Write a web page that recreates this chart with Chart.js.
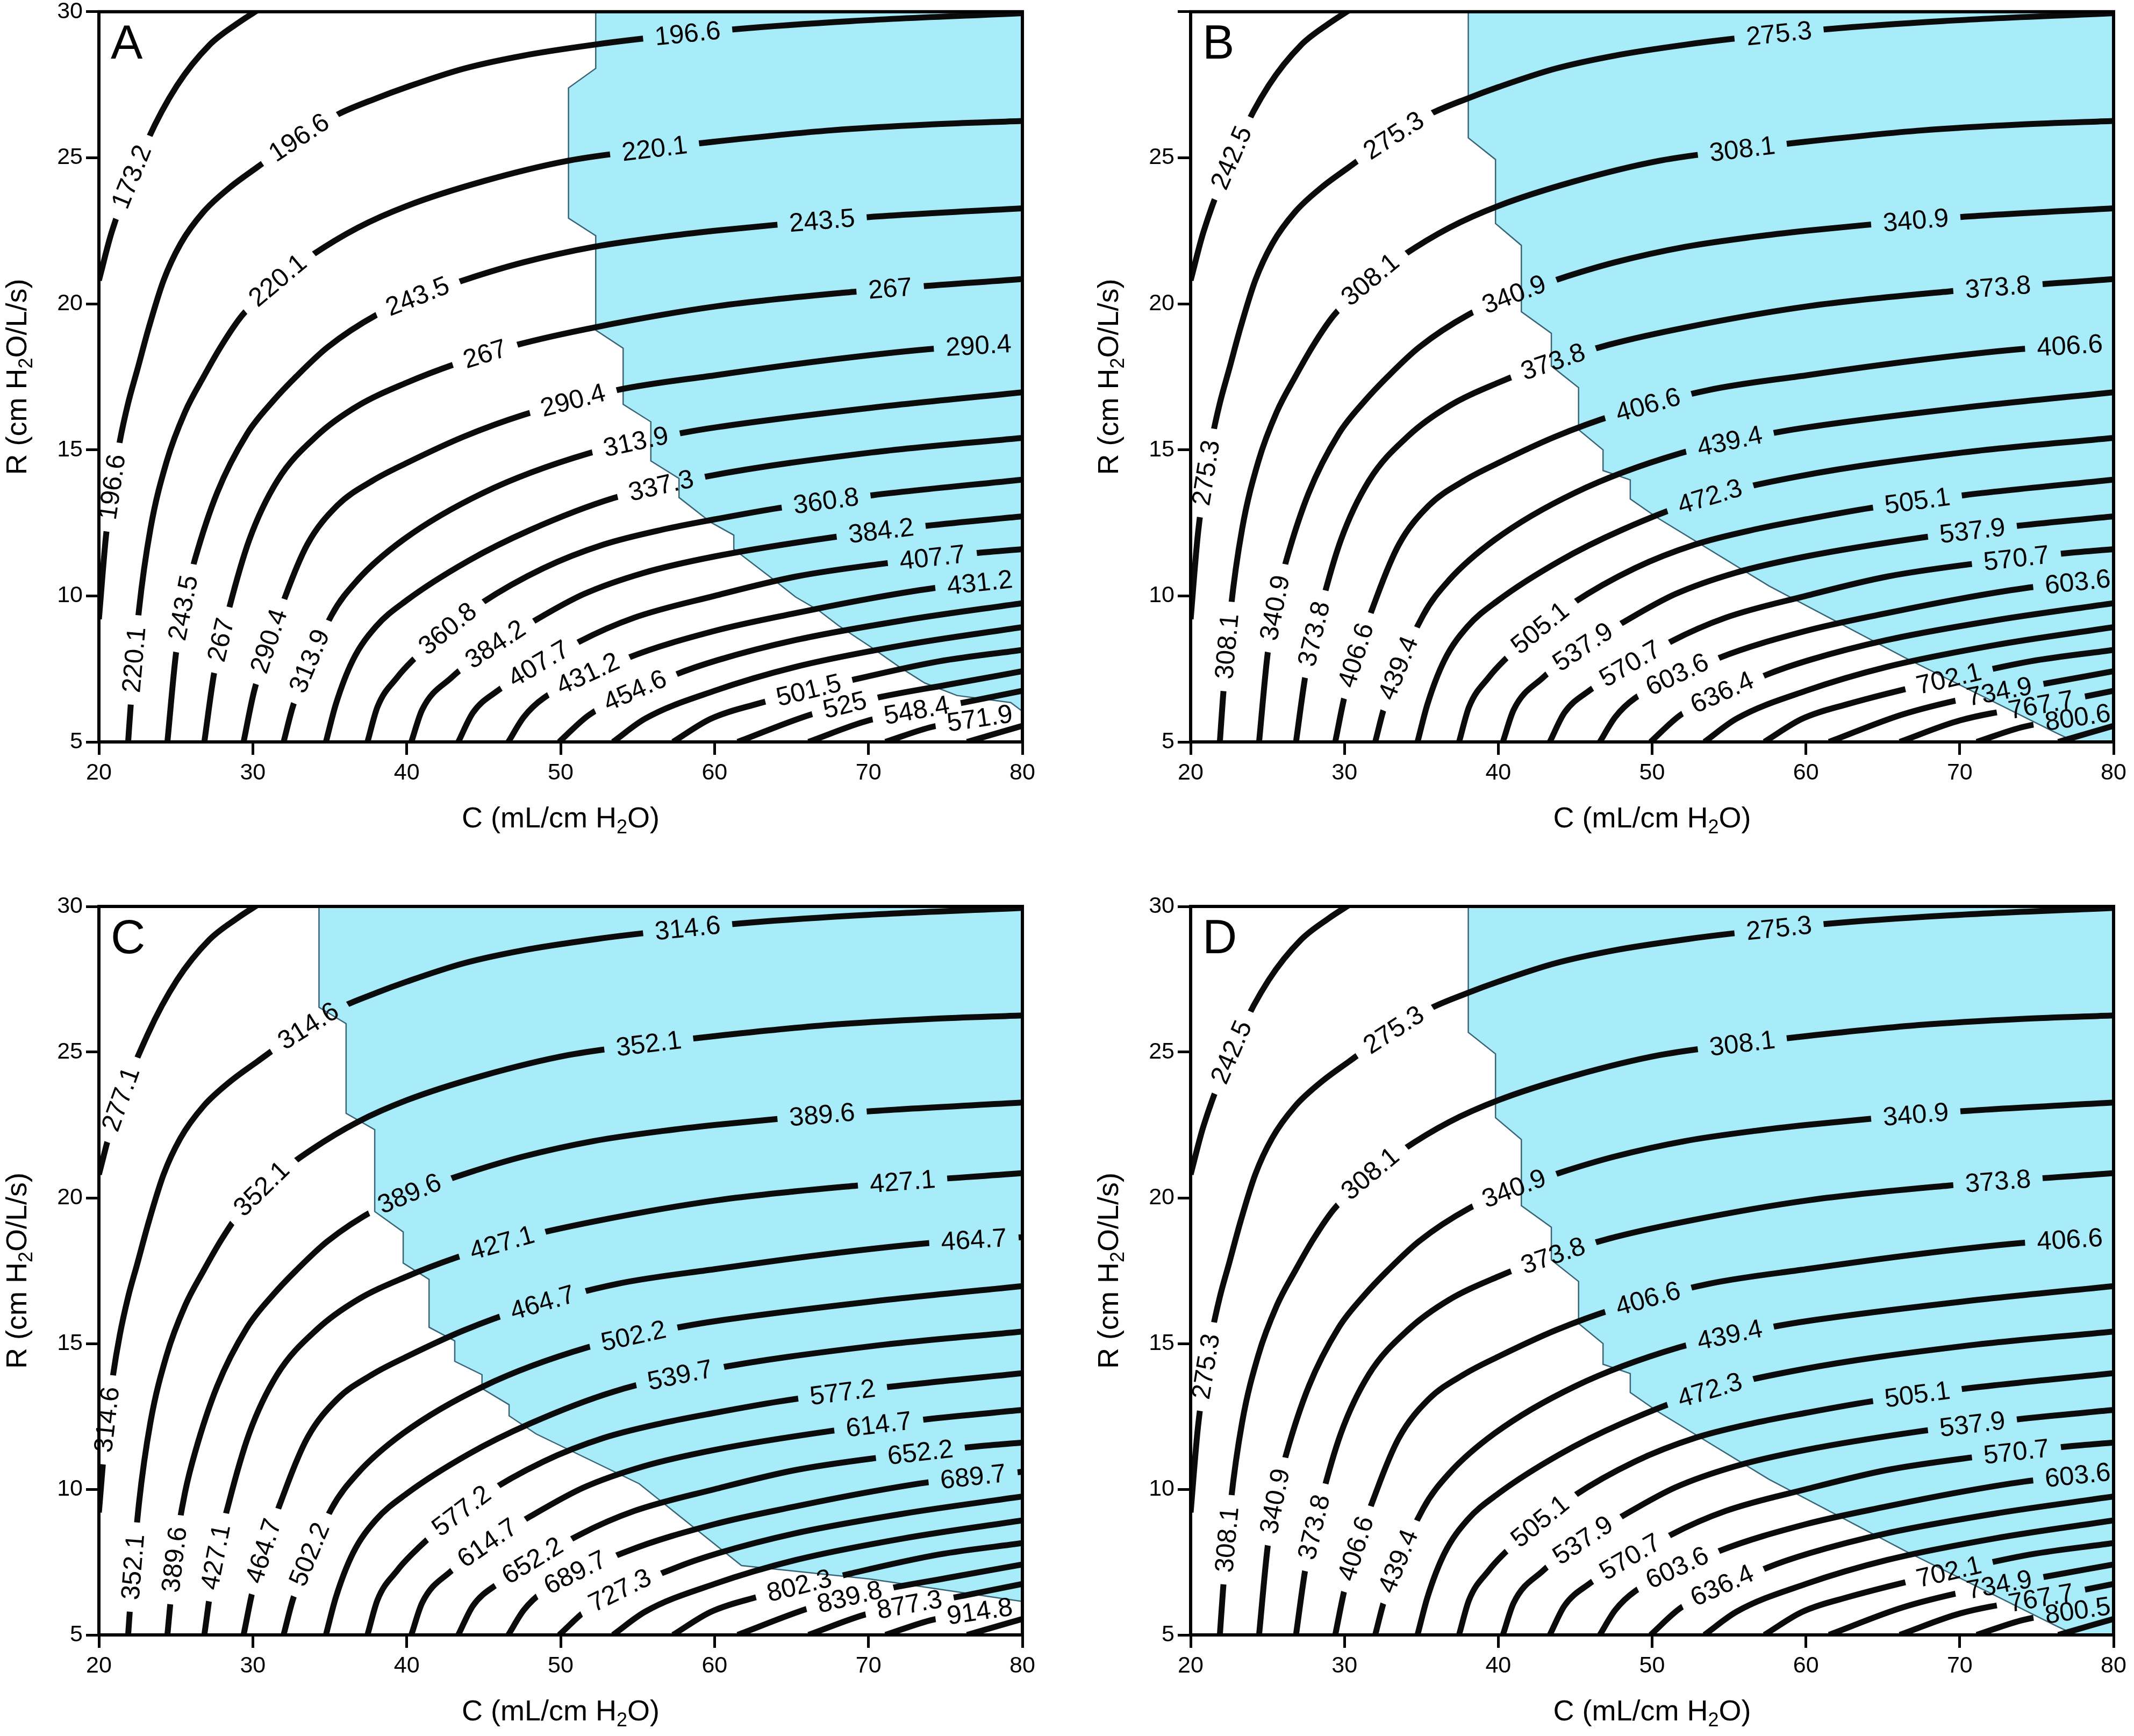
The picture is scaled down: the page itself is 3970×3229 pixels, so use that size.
<!DOCTYPE html>
<html>
<head>
<meta charset="utf-8">
<script src="https://cdn.jsdelivr.net/npm/chart.js@4.4.1/dist/chart.umd.min.js"></script>
<style>
  html, body { margin: 0; padding: 0; background: #ffffff; }
  #wrap { position: relative; width: 3970px; height: 3229px; overflow: hidden; }
  #wrap canvas { position: absolute; }
</style>
</head>
<body>
<div id="wrap">
  <canvas id="panelA" width="1985" height="1650" style="left:0;top:-10px"></canvas>
  <canvas id="panelB" width="1985" height="1650" style="left:1985px;top:-10px"></canvas>
  <canvas id="panelC" width="1985" height="1589" style="left:0;top:1640px"></canvas>
  <canvas id="panelD" width="1985" height="1589" style="left:1985px;top:1640px"></canvas>
</div>
<script>
// Contour levels printed on the lines (mL), one list per panel
const levelsA = [173.2, 196.6, 220.1, 243.5, 267, 290.4, 313.9, 337.3, 360.8, 384.2, 407.7, 431.2, 454.6, 478.1, 501.5, 525, 548.4, 571.9, 595.3];
const levelsB = [242.5, 275.3, 308.1, 340.9, 373.8, 406.6, 439.4, 472.3, 505.1, 537.9, 570.7, 603.6, 636.4, 669.2, 702.1, 734.9, 767.7, 800.6, 833.4];
const levelsC = [277.1, 314.6, 352.1, 389.6, 427.1, 464.7, 502.2, 539.7, 577.2, 614.7, 652.2, 689.7, 727.3, 764.8, 802.3, 839.8, 877.3, 914.8, 952.3];
const levelsD = [242.5, 275.3, 308.1, 340.9, 373.8, 406.6, 439.4, 472.3, 505.1, 537.9, 570.7, 603.6, 636.4, 669.2, 702.1, 734.9, 767.7, 800.5, 833.4];

// Contour lines (same shape in every panel): [C mL/cm H2O, R cm H2O/L/s]
const contour0 = [[20, 20.8], [20.84, 22.47], [23.18, 25.62], [25.07, 27.47], [27.16, 28.85], [29.0, 29.6], [30.3, 30.05]];
const contour1 = [[20, 9.2], [20.45, 12.0], [20.9, 13.85], [21.36, 15.3], [21.9, 16.6], [22.5, 17.75], [23.25, 19.2], [24.2, 20.8], [25.3, 22.05], [26.8, 23.15], [28.5, 23.98], [30.3, 24.68], [32.8, 25.62], [35.5, 26.48], [38.1, 27.05], [40, 27.42], [43.7, 28.05], [47.6, 28.5], [52.3, 28.88], [55.2, 29.07], [61.3, 29.4], [68.9, 29.68], [80, 29.95]];
const contour2 = [[21.9, 5], [22.1, 6.5], [22.6, 9.5], [23.35, 12.3], [24.4, 14.6], [25.6, 16.3], [26.8, 17.5], [28.0, 18.6], [29.3, 19.6], [31.5, 20.75], [33.8, 21.65], [36.8, 22.6], [40, 23.35], [45, 24.2], [50.5, 24.9], [56, 25.3], [60, 25.55], [67.6, 25.94], [74, 26.14], [80, 26.26]];
const contour3 = [[24.45, 5], [25.01, 8.04], [25.6, 9.9], [26.25, 11.27], [27.68, 13.53], [29.63, 15.55], [31.33, 16.68], [32.8, 17.5], [34.85, 18.51], [38.1, 19.64], [40.7, 20.25], [43.94, 20.85], [47.59, 21.42], [52.15, 21.95], [56.71, 22.3], [60, 22.5], [63.92, 22.7], [70.05, 22.97], [80, 23.27]];
const contour4 = [[26.85, 5], [27.5, 7.4], [28.46, 9.57], [29.77, 11.92], [31.59, 13.94], [34.2, 15.5], [36.8, 16.5], [40, 17.3], [43.16, 17.94], [47.2, 18.6], [52.28, 19.2], [60.2, 19.92], [69.26, 20.42], [80, 20.85]];
const contour5 = [[29.4, 5], [30.09, 6.75], [32.11, 9.98], [33.54, 11.76], [35.5, 13.1], [37.8, 13.95], [40, 14.55], [43.7, 15.45], [47.6, 16.2], [53.7, 17.05], [60, 17.55], [67, 18.05], [74, 18.45], [80, 18.65]];
const contour6 = [[32.0, 5], [32.63, 6.26], [35.11, 9.33], [36.8, 10.54], [39.77, 11.92], [44.98, 13.53], [51.76, 14.87], [58.02, 15.59], [60.2, 15.78], [70.18, 16.44], [80, 16.97]];
const contour7 = [[34.75, 5], [35.4, 6.3], [36.5, 7.8], [38.0, 8.95], [40, 9.85], [44, 11.2], [48, 12.25], [53.45, 13.35], [59.6, 14.1], [70.2, 14.91], [80, 15.41]];
const contour8 = [[37.45, 5], [38.1, 6.2], [39.41, 7.23], [40.3, 7.75], [42.6, 8.85], [44.85, 9.75], [48.89, 10.95], [52.8, 11.76], [56.71, 12.28], [60, 12.62], [64.18, 13.01], [70.31, 13.45], [80, 13.98]];
const contour9 = [[40.3, 5], [41.0, 6.1], [42.9, 7.2], [45.5, 8.25], [48.11, 9.09], [51.5, 10.06], [55.41, 10.79], [60, 11.35], [67.57, 12.0], [73.76, 12.4], [80, 12.72]];
const contour10 = [[43.35, 5], [44.3, 6.0], [45.9, 6.75], [51.24, 8.44], [54.76, 9.25], [60, 10.0], [65.27, 10.66], [70.9, 11.1], [77.08, 11.47], [80, 11.6]];
const contour11 = [[46.6, 5], [47.6, 5.85], [48.89, 6.5], [54.37, 7.88], [60, 8.8], [65.27, 9.41], [70, 9.9], [74.17, 10.26], [80, 10.6]];
const contour12 = [[49.9, 5], [51.89, 5.94], [57.49, 7.31], [60.2, 7.8], [65.27, 8.49], [72.25, 9.16], [80, 9.75]];
const contour13 = [[53.4, 5], [55.5, 5.8], [60, 6.75], [65.27, 7.57], [72.25, 8.31], [80, 8.93]];
const contour14 = [[57.3, 5], [59.75, 5.79], [62.75, 6.3], [68.87, 7.11], [74.58, 7.76], [80, 8.15]];
const contour15 = [[61.5, 5], [66.27, 5.94], [70.45, 6.5], [75.17, 6.96], [80, 7.42]];
const contour16 = [[66.1, 5], [70.04, 5.74], [76.21, 6.35], [80, 6.75]];
const contour17 = [[71.1, 5], [74.17, 5.52], [80, 6.0]];
const contour18 = [[76.4, 5], [80, 5.55]];
const contours = [contour0, contour1, contour2, contour3, contour4, contour5, contour6, contour7, contour8, contour9,
  contour10, contour11, contour12, contour13, contour14, contour15, contour16, contour17, contour18];

// Where each panel writes its labels: [contour index, C, R]
const spotsA = [
  [0, 22.2, 24.3], [1, 21.0, 13.7], [1, 33.0, 25.69], [1, 58.3, 29.23],
  [2, 22.3, 7.8], [2, 31.6, 20.8], [2, 56.1, 25.3], [3, 25.5, 9.6], [3, 40.7, 20.25], [3, 67.0, 22.84],
  [4, 28.0, 8.5], [4, 45.1, 18.26], [4, 71.35, 20.5], [5, 31.2, 8.4], [5, 50.85, 16.65], [5, 77.1, 18.55],
  [6, 33.9, 7.7], [6, 54.9, 15.23], [7, 56.6, 13.74], [8, 42.64, 8.87], [8, 67.3, 13.24],
  [9, 45.76, 8.33], [9, 70.8, 12.2], [10, 48.63, 7.6], [10, 74.1, 11.3], [11, 51.9, 7.27], [11, 77.2, 10.43],
  [12, 54.89, 6.68], [14, 66.1, 6.85], [15, 68.5, 6.21], [16, 73.2, 6.05], [17, 77.25, 5.77]
];
const spotsB = [
  [0, 22.7, 25.0], [1, 21.05, 14.2], [1, 33.2, 25.75], [1, 58.3, 29.23],
  [2, 22.4, 8.3], [2, 31.7, 20.82], [2, 55.9, 25.3], [3, 25.5, 9.6], [3, 41.06, 20.33], [3, 67.1, 22.85],
  [4, 28.1, 8.7], [4, 43.5, 18.05], [4, 72.6, 20.57], [5, 30.8, 8.0], [5, 49.7, 16.5], [5, 77.1, 18.55],
  [6, 33.6, 7.5], [6, 55.0, 15.24], [7, 53.8, 13.38], [8, 42.7, 8.9], [8, 67.3, 13.24],
  [9, 45.5, 8.23], [9, 70.8, 12.2], [10, 48.6, 7.6], [10, 73.7, 11.25], [11, 51.7, 7.2], [11, 77.6, 10.45],
  [12, 54.6, 6.6], [14, 69.3, 7.16], [15, 72.6, 6.7], [16, 75.3, 6.25], [17, 77.7, 5.8]
];
const spotsC = [
  [0, 21.5, 23.4], [1, 20.55, 12.4], [1, 33.6, 25.88], [1, 58.2, 29.23],
  [2, 22.25, 7.3], [2, 30.6, 20.3], [2, 55.7, 25.28], [3, 24.95, 7.6], [3, 40.2, 20.15], [3, 67.0, 22.84],
  [4, 27.6, 7.7], [4, 46.2, 18.4], [4, 72.2, 20.55], [5, 30.8, 7.85], [5, 48.8, 16.35], [5, 76.8, 18.55],
  [6, 33.8, 7.7], [6, 54.8, 15.2], [7, 57.8, 13.9], [8, 43.6, 9.25], [8, 68.3, 13.3],
  [9, 45.3, 8.13], [9, 70.6, 12.2], [10, 48.2, 7.6], [10, 73.3, 11.27], [11, 51.0, 7.1], [11, 76.8, 10.4],
  [12, 53.9, 6.5], [14, 65.5, 6.75], [15, 68.8, 6.25], [16, 72.6, 6.0], [17, 77.2, 5.77]
];

// Outline of the blue region in each panel: [C, R]
const shadeA = [[50.51, 30], [52.28, 30], [52.28, 28.06], [50.51, 27.39], [50.51, 22.93], [52.28, 22.33], [52.28, 19.1],
  [54.06, 18.48], [54.06, 16.56], [55.86, 15.96], [55.86, 14.62], [57.69, 14.02], [57.69, 13.37], [59.75, 12.52],
  [61.25, 12.08], [61.25, 11.6], [63.66, 10.63], [65.27, 9.96], [66.77, 9.5], [68.06, 8.98], [70.16, 8.25],
  [72.0, 7.57], [73.65, 7.02], [75.75, 6.59], [79.24, 6.35], [80, 6.05], [80, 30]];
const shadeB = [[38.05, 30], [38.05, 25.68], [39.82, 24.94], [39.82, 22.75], [41.5, 22.0], [41.5, 19.73], [43.45, 18.99],
  [43.45, 17.87], [45.22, 17.13], [45.22, 15.69], [46.81, 15.0], [46.81, 14.29], [48.58, 13.97], [48.58, 13.32],
  [50.35, 12.67], [57.6, 10.34], [66.46, 7.88], [71.77, 6.49], [76.19, 5.33], [77.5, 5], [80, 5], [80, 30]];
const shadeC = [[34.3, 30], [34.3, 26.54], [36.06, 25.98], [36.06, 22.9], [37.92, 22.34], [37.92, 19.53], [39.77, 18.83],
  [39.77, 17.76], [41.45, 17.2], [41.45, 15.56], [43.12, 15.09], [43.12, 14.39], [44.89, 13.93], [44.89, 13.46],
  [46.65, 12.9], [46.65, 12.52], [48.4, 11.9], [55.1, 10.19], [61.75, 7.38], [70.1, 6.92], [80, 6.15], [80, 30]];

const xTicks = [20, 30, 40, 50, 60, 70, 80];
const yTicks = [5, 10, 15, 20, 25, 30];

const FONT = '"Liberation Sans", Arial, Helvetica, sans-serif';
const LABEL_SIZE = 49;
const TITLE_SIZE = 54;

const panels = [
  { id: 'panelA', letter: 'A', levels: levelsA, spots: spotsA, shade: shadeA, top: 28, right: 83, yWidth: 184, xHeight: 260, hideTop: false },
  { id: 'panelB', letter: 'B', levels: levelsB, spots: spotsB, shade: shadeB, top: 28, right: 38, yWidth: 230, xHeight: 260, hideTop: true },
  { id: 'panelC', letter: 'C', levels: levelsC, spots: spotsC, shade: shadeC, top: 46, right: 83, yWidth: 184, xHeight: 188, hideTop: false },
  { id: 'panelD', letter: 'D', levels: levelsD, spots: spotsB, shade: shadeB, top: 46, right: 38, yWidth: 230, xHeight: 188, hideTop: false }
];

// Sample the drawn (monotone) curve of a dataset in pixel space
function densePath(chart, meta) {
  const line = meta.dataset;
  if (line && typeof line.updateControlPoints === 'function') {
    line.updateControlPoints(chart.chartArea, 'x');
  }
  const pts = meta.data;
  const out = [];
  for (let i = 0; i < pts.length - 1; i++) {
    const a = pts[i], b = pts[i + 1];
    const c1x = Number.isFinite(a.cp2x) ? a.cp2x : a.x;
    const c1y = Number.isFinite(a.cp2y) ? a.cp2y : a.y;
    const c2x = Number.isFinite(b.cp1x) ? b.cp1x : b.x;
    const c2y = Number.isFinite(b.cp1y) ? b.cp1y : b.y;
    for (let k = 0; k < 40; k++) {
      const t = k / 40, u = 1 - t;
      out.push([
        u * u * u * a.x + 3 * u * u * t * c1x + 3 * u * t * t * c2x + t * t * t * b.x,
        u * u * u * a.y + 3 * u * u * t * c1y + 3 * u * t * t * c2y + t * t * t * b.y
      ]);
    }
  }
  const last = pts[pts.length - 1];
  out.push([last.x, last.y]);
  return out;
}

function alongPath(path, tx, ty, halfLen) {
  let best = 0, bd = Infinity;
  path.forEach((p, i) => {
    const d = (p[0] - tx) ** 2 + (p[1] - ty) ** 2;
    if (d < bd) { bd = d; best = i; }
  });
  let i1 = best, acc = 0;
  while (i1 > 0 && acc < halfLen) {
    acc += Math.hypot(path[i1][0] - path[i1 - 1][0], path[i1][1] - path[i1 - 1][1]);
    i1--;
  }
  let i2 = best;
  acc = 0;
  while (i2 < path.length - 1 && acc < halfLen) {
    acc += Math.hypot(path[i2 + 1][0] - path[i2][0], path[i2 + 1][1] - path[i2][1]);
    i2++;
  }
  let ang = Math.atan2(path[i2][1] - path[i1][1], path[i2][0] - path[i1][0]);
  if (ang > Math.PI / 2) ang -= Math.PI;
  if (ang < -Math.PI / 2) ang += Math.PI;
  return { x: path[best][0], y: path[best][1], ang };
}

function computePlacements(chart, p) {
  const ctx = chart.ctx;
  const xs = chart.scales.x, ys = chart.scales.y;
  const paths = {};
  ctx.save();
  ctx.font = LABEL_SIZE + 'px ' + FONT;
  const list = p.spots.map(([ci, c, r]) => {
    if (!paths[ci]) paths[ci] = densePath(chart, chart.getDatasetMeta(ci));
    const text = String(p.levels[ci]);
    const w = ctx.measureText(text).width;
    const pos = alongPath(paths[ci], xs.getPixelForValue(c), ys.getPixelForValue(r), w / 2 + 10);
    return Object.assign({ ci, text, w }, pos);
  });
  ctx.restore();
  return list;
}

// Axis title with a subscript "2"
function drawTitle(ctx, x, y, rot, parts, size) {
  const sub = Math.round(size * 0.66);
  ctx.save();
  ctx.translate(x, y);
  ctx.rotate(rot);
  const widths = parts.map(([t, s]) => {
    ctx.font = (s ? sub : size) + 'px ' + FONT;
    return ctx.measureText(t).width;
  });
  let cx = -widths.reduce((a, b) => a + b, 0) / 2;
  ctx.fillStyle = '#000';
  ctx.textAlign = 'left';
  ctx.textBaseline = 'alphabetic';
  parts.forEach(([t, s], i) => {
    ctx.font = (s ? sub : size) + 'px ' + FONT;
    ctx.fillText(t, cx, size * 0.36 + (s ? size * 0.2 : 0));
    cx += widths[i];
  });
  ctx.restore();
}

function makePlugin(p) {
  let placements = null;
  const saved = {};
  return {
    id: 'contourLabels',
    beforeDatasetDraw(chart, args) {
      const ds = chart.data.datasets[args.index];
      if (ds.contourIndex === undefined) return;
      if (!placements) placements = computePlacements(chart, p);
      const holes = placements.filter(h => h.ci === ds.contourIndex);
      if (!holes.length) return;
      const ctx = chart.ctx;
      ctx.save();
      saved[args.index] = true;
      ctx.beginPath();
      ctx.rect(0, 0, chart.width, chart.height);
      holes.forEach(h => {
        const c = Math.cos(h.ang), s = Math.sin(h.ang);
        const hw = h.w / 2 + 22, hh = 24;
        const pts = [[-hw, -hh], [hw, -hh], [hw, hh], [-hw, hh]]
          .map(([u, v]) => [h.x + u * c - v * s, h.y + u * s + v * c]);
        ctx.moveTo(pts[0][0], pts[0][1]);
        pts.slice(1).forEach(q => ctx.lineTo(q[0], q[1]));
        ctx.closePath();
      });
      ctx.clip('evenodd');
    },
    afterDatasetDraw(chart, args) {
      if (saved[args.index]) {
        chart.ctx.restore();
        saved[args.index] = false;
      }
    },
    afterDatasetsDraw(chart) {
      const ctx = chart.ctx;
      const a = chart.chartArea;
      if (!placements) placements = computePlacements(chart, p);
      // contour labels
      ctx.save();
      ctx.fillStyle = '#000';
      ctx.font = LABEL_SIZE + 'px ' + FONT;
      ctx.textAlign = 'center';
      ctx.textBaseline = 'middle';
      placements.forEach(h => {
        ctx.save();
        ctx.translate(h.x, h.y);
        ctx.rotate(h.ang);
        ctx.fillText(h.text, 0, 2);
        ctx.restore();
      });
      ctx.restore();
      // frame
      ctx.save();
      ctx.strokeStyle = '#000';
      ctx.lineWidth = 6;
      ctx.strokeRect(a.left, a.top, a.right - a.left, a.bottom - a.top);
      // panel letter
      ctx.fillStyle = '#000';
      ctx.font = '89px ' + FONT;
      ctx.textAlign = 'left';
      ctx.textBaseline = 'alphabetic';
      ctx.fillText(p.letter, a.left + 22, a.top + 87);
      ctx.restore();
    },
    afterDraw(chart) {
      const ctx = chart.ctx;
      const a = chart.chartArea;
      drawTitle(ctx, (a.left + a.right) / 2, a.bottom + 140, 0,
        [['C (mL/cm H', false], ['2', true], ['O)', false]], TITLE_SIZE);
      drawTitle(ctx, a.left - 154, (a.top + a.bottom) / 2, -Math.PI / 2,
        [['R (cm H', false], ['2', true], ['O/L/s)', false]], TITLE_SIZE);
    }
  };
}

panels.forEach(p => {
  const datasets = contours.map((pts, i) => ({
    label: String(p.levels[i]),
    contourIndex: i,
    data: pts.map(([x, y]) => ({ x, y })),
    borderColor: '#0b0b0b',
    borderWidth: 11,
    borderCapStyle: 'butt',
    pointRadius: 0,
    fill: false,
    cubicInterpolationMode: 'monotone',
    clip: 0,
    order: 0
  }));
  datasets.push({
    label: 'region',
    data: p.shade.map(([x, y]) => ({ x, y })),
    borderColor: '#3a6576',
    borderWidth: 2.5,
    backgroundColor: '#a8ecfa',
    pointRadius: 0,
    fill: 'shape',
    tension: 0,
    clip: 0,
    order: 1
  });

  const tickFont = { family: FONT, size: 43 };
  const gridOpts = { display: true, drawOnChartArea: false, drawTicks: true, tickLength: 24, tickWidth: 5, tickColor: '#000' };

  new Chart(document.getElementById(p.id), {
    type: 'line',
    data: { datasets },
    options: {
      responsive: false,
      maintainAspectRatio: false,
      devicePixelRatio: 1,
      animation: false,
      events: [],
      layout: { padding: { left: 0, top: p.top, right: p.right, bottom: 0 } },
      plugins: {
        legend: { display: false },
        tooltip: { enabled: false }
      },
      scales: {
        x: {
          type: 'linear',
          position: 'bottom',
          min: 20,
          max: 80,
          afterBuildTicks: s => { s.ticks = xTicks.map(v => ({ value: v })); },
          afterFit: s => { s.height = p.xHeight; },
          ticks: { color: '#000', font: tickFont, padding: 8, maxRotation: 0, autoSkip: false },
          grid: gridOpts,
          border: { display: false }
        },
        y: {
          type: 'linear',
          position: 'left',
          min: 5,
          max: 30,
          afterBuildTicks: s => { s.ticks = yTicks.map(v => ({ value: v })); },
          afterFit: s => { s.width = p.yWidth; },
          ticks: {
            color: '#000', font: tickFont, padding: 6, autoSkip: false,
            callback: v => (p.hideTop && v === 30) ? '' : v
          },
          grid: gridOpts,
          border: { display: false }
        }
      }
    },
    plugins: [makePlugin(p)]
  });
});
</script>
</body>
</html>
